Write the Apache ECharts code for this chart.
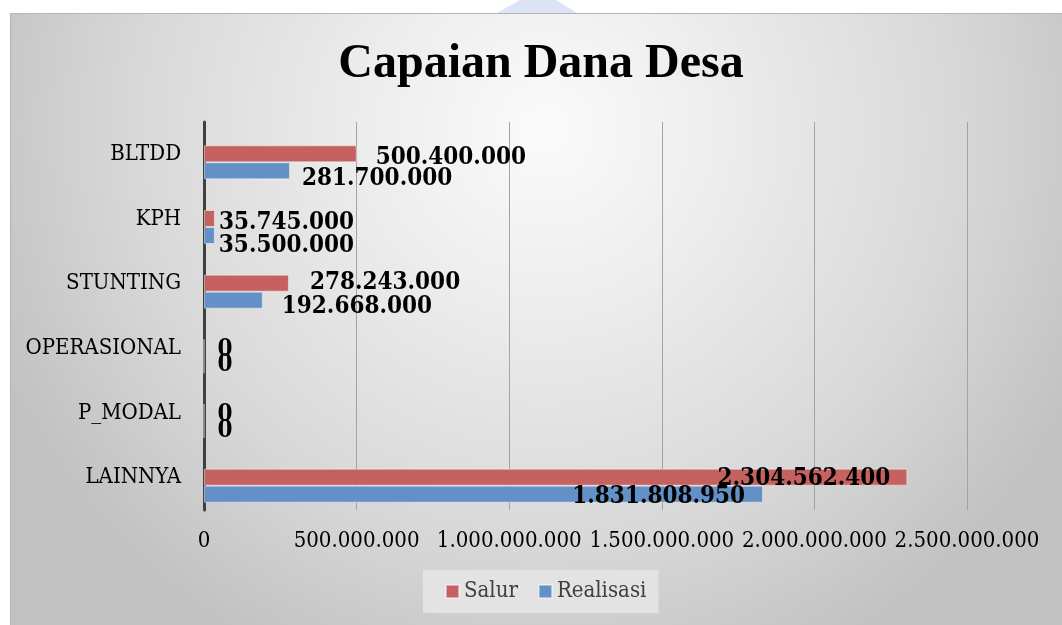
<!DOCTYPE html>
<html>
<head>
<meta charset="utf-8">
<script src="https://cdn.jsdelivr.net/npm/echarts@6/dist/echarts.min.js"></script>
<style>
html,body{margin:0;padding:0;background:#ffffff;}
#chart{width:1062px;height:625px;}
</style>
</head>
<body>
<div id="chart"></div>
<script>
// ---- data ----
const categories = ['BLTDD', 'KPH', 'STUNTING', 'OPERASIONAL', 'P_MODAL', 'LAINNYA'];
const salur = [500400000, 35745000, 278243000, 0, 0, 2304562400];
const realisasi = [281700000, 35500000, 192668000, 0, 0, 1831808950];
const xTickMax = 2500000000;
const xTickStep = 500000000;

// ---- label placement tweaks (styling only) ----
const salurLabelTweak = [
  {pos:'right', dist:19, dy:4},
  {pos:'right', dist:4, dy:4},
  {pos:'right', dist:21, dy:0},
  {pos:'right', dist:13, dy:2},
  {pos:'right', dist:13, dy:2},
  {pos:'insideRight', dist:17, dy:2}
];
const realLabelTweak = [
  {pos:'right', dist:12, dy:8},
  {pos:'right', dist:4, dy:10},
  {pos:'right', dist:19, dy:7},
  {pos:'right', dist:13, dy:0},
  {pos:'right', dist:13, dy:1},
  {pos:'insideRight', dist:18, dy:3}
];

const FONT = "'DejaVu Serif Condensed', 'DejaVu Serif', serif";
function fmt(v){ return String(v).replace(/\B(?=(\d{3})+(?!\d))/g, '.'); }

function buildData(vals, tweaks){
  return vals.map((v,i)=>({
    value: v,
    label: {
      position: tweaks[i].pos,
      distance: tweaks[i].dist,
      offset: [0, tweaks[i].dy]
    }
  }));
}

const labelStyle = {
  show: true,
  formatter: p => fmt(p.value),
  fontFamily: FONT,
  fontWeight: 'bold',
  fontSize: 24,
  color: '#000000'
};

const chart = echarts.init(document.getElementById('chart'), null, {renderer:'canvas'});
chart.setOption({
  backgroundColor: 'transparent',
  animation: false,
  graphic: [
    {
      type: 'rect', z: -10, silent: true,
      shape: {x: 10.5, y: 13.5, width: 1060, height: 620},
      style: {
        fill: {
          type: 'radial', x: 545, y: 130, r: 590, global: true,
          colorStops: [
            {offset: 0, color: '#fbfbfb'},
            {offset: 0.3, color: '#ededed'},
            {offset: 0.7, color: '#d8d8d8'},
            {offset: 1, color: '#c2c2c2'}
          ]
        },
        stroke: '#b4b4b4', lineWidth: 1
      }
    },
    {
      type: 'polygon', z: -10, silent: true,
      shape: {points: [[497,13],[577,13],[556,0],[520,0]]},
      style: {fill: '#dbe5f7'}
    }
  ],
  title: {
    text: 'Capaian Dana Desa',
    left: 536, top: 36, textAlign: 'center',
    textStyle: {
      fontFamily: "'Liberation Serif', 'Times New Roman', serif",
      fontWeight: 'bold', fontSize: 48, color: '#000000'
    }
  },
  legend: {
    data: ['Salur', 'Realisasi'],
    left: 423, top: 570,
    padding: [10, 12, 10, 22],
    backgroundColor: '#e3e3e3',
    itemWidth: 13, itemHeight: 13, itemGap: 20,
    icon: 'rect',
    textStyle: {fontFamily: FONT, fontSize: 22, color: '#404040', lineHeight: 23}
  },
  grid: [
    {left: 204, right: 95, top: 122, height: 388, containLabel: false},
    {left: 204, right: 95, top: 130, height: 388, containLabel: false}
  ],
  xAxis: [
    {
      gridIndex: 0, type: 'value', min: 0, max: xTickMax, interval: xTickStep,
      axisLine: {show: false}, axisTick: {show: false},
      splitLine: {show: true, lineStyle: {color: '#a3a3a3', width: 1}},
      axisLabel: {formatter: v => fmt(v), fontFamily: FONT, fontSize: 22, color: '#000000', margin: 20}
    },
    {
      gridIndex: 1, type: 'value', min: 0, max: xTickMax, interval: xTickStep,
      show: false
    }
  ],
  yAxis: [
    {
      gridIndex: 0, type: 'category', data: categories, inverse: true,
      axisLine: {show: true, lineStyle: {color: '#404040', width: 3}},
      axisTick: {show: false},
      axisLabel: {fontFamily: FONT, fontSize: 22, color: '#000000', margin: 23}
    },
    {
      gridIndex: 1, type: 'category', data: categories, inverse: true, show: false
    }
  ],
  series: [
    {
      name: 'Salur', type: 'bar', xAxisIndex: 1, yAxisIndex: 1,
      data: buildData(salur, salurLabelTweak),
      barWidth: 17, barGap: '0%',
      itemStyle: {color: '#c5625f', borderColor: 'rgba(255,255,255,0.45)', borderWidth: 1},
      label: labelStyle
    },
    {
      name: 'Realisasi', type: 'bar', xAxisIndex: 1, yAxisIndex: 1,
      data: buildData(realisasi, realLabelTweak),
      barWidth: 17, barGap: '0%',
      itemStyle: {color: '#6290c7', borderColor: 'rgba(255,255,255,0.45)', borderWidth: 1},
      label: labelStyle
    }
  ]
});
</script>
</body>
</html>
